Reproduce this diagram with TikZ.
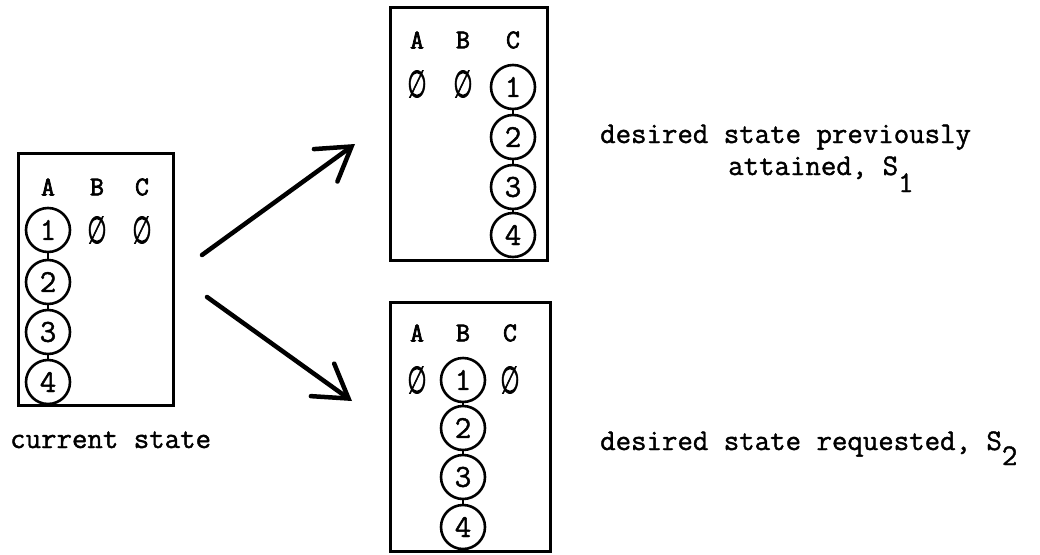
\documentclass[tikz,border=0pt]{standalone}
\usepackage{fontspec}
\newfontfamily\symfont{DejaVu Sans}[FakeBold=2]
\newfontfamily\twfont{Latin Modern Mono}[FakeBold=1.3]
\newfontfamily\twbold{Latin Modern Mono}[FakeBold=2.6]
\usetikzlibrary{arrows.meta}
\newcommand{\nilsym}{\scalebox{0.62}[1.05]{∅}}
\begin{document}
\begin{tikzpicture}[x=1pt,y=-1pt,
  frame/.style={draw,line width=3pt,inner sep=0pt},
  blk/.style={circle,draw,line width=2.6pt,minimum size=44pt,inner sep=0pt,font=\twfont\fontsize{32}{32}\selectfont},
  link/.style={line width=2pt},
  col/.style={inner sep=0pt,font=\twbold\fontsize{27}{27}\selectfont},
  empty/.style={inner sep=0pt,font=\symfont\fontsize{36}{36}\selectfont},
  lbl/.style={inner sep=0pt,anchor=base west,font=\twfont\fontsize{30}{30}\selectfont},
  move/.style={line width=4.5pt,line cap=round,-{Straight Barb[length=32pt,width=40pt,line cap=round]}}]
\useasboundingbox (0,0) rectangle (1040,554);
% current state
\node[frame,minimum width=155pt,minimum height=252pt] (cur) at (95.5,279) {};
\node[col] (ca) at (48,187) {A};
\node[col] (cb) at (97,187) {B};
\node[col] (cc) at (142,187) {C};
\node[blk] (a1) at (48,230) {1};
\node[blk] (a2) at (48,282) {2};
\node[blk] (a3) at (48,332) {3};
\node[blk] (a4) at (48,382) {4};
\node[empty] (cbe) at (97,230) {\nilsym};
\node[empty] (cce) at (142,230) {\nilsym};
\draw[link] (a1) -- (a2);
\draw[link] (a2) -- (a3);
\draw[link] (a3) -- (a4);
\node[lbl] (lcur) at (10,448) {current state};
% previously attained
\node[frame,minimum width=157pt,minimum height=253pt] (prev) at (468.5,133.5) {};
\node[col] (pa) at (417,40) {A};
\node[col] (pb) at (463,40) {B};
\node[col] (pc) at (513,40) {C};
\node[empty] (pae) at (417,84) {\nilsym};
\node[empty] (pbe) at (463,84) {\nilsym};
\node[blk] (c1) at (513,87) {1};
\node[blk] (c2) at (513,137) {2};
\node[blk] (c3) at (513,187) {3};
\node[blk] (c4) at (513,235) {4};
\draw[link] (c1) -- (c2);
\draw[link] (c2) -- (c3);
\draw[link] (c3) -- (c4);
\node[lbl] (lprev1) at (600,143) {desired state previously};
\node[lbl] (lprev2) at (728,175) {attained, S\raisebox{-17pt}{1}};
% requested
\node[frame,minimum width=160pt,minimum height=249pt] (req) at (470,426.5) {};
\node[col] (ra) at (417,333) {A};
\node[col] (rb) at (463,333) {B};
\node[col] (rc) at (510,333) {C};
\node[empty] (rae) at (417,380) {\nilsym};
\node[empty] (rce) at (510,380) {\nilsym};
\node[blk] (b1) at (463,380) {1};
\node[blk] (b2) at (463,428) {2};
\node[blk] (b3) at (463,477) {3};
\node[blk] (b4) at (463,527) {4};
\draw[link] (b1) -- (b2);
\draw[link] (b2) -- (b3);
\draw[link] (b3) -- (b4);
\node[lbl] (lreq) at (600,450) {desired state requested, S\raisebox{-15pt}{2}};
% arrows
\coordinate (p0) at (202,255);
\coordinate (p1) at (355,144);
\coordinate (q0) at (207,297);
\coordinate (q1) at (352,401);
\draw[move] (p0) -- (p1);
\draw[move] (q0) -- (q1);
\end{tikzpicture}
\end{document}
